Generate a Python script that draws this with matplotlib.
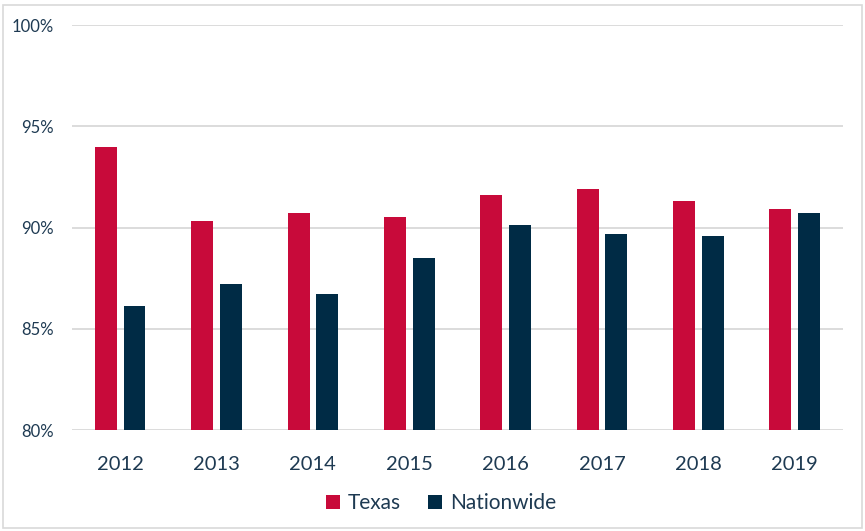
import numpy as np
import matplotlib.pyplot as plt
from matplotlib.patches import Rectangle
from matplotlib.ticker import PercentFormatter

years = ['2012', '2013', '2014', '2015', '2016', '2017', '2018', '2019']
texas = [94.0, 90.3, 90.7, 90.5, 91.6, 91.9, 91.3, 90.9]
nationwide = [86.1, 87.2, 86.7, 88.5, 90.1, 89.7, 89.6, 90.7]

RED = '#C80A3A'
NAVY = '#002B45'
TEXT = '#1E3A52'

plt.rcParams['font.family'] = ['Lato', 'DejaVu Sans']

fig = plt.figure(figsize=(8.65, 5.31), dpi=100)
ax = fig.add_axes([0.0832, 0.1902, 0.8913, 0.7627])

x = np.arange(len(years))
w = 0.228
off = 0.149
ax.bar(x - off, texas, w, color=RED, label='Texas', zorder=3)
ax.bar(x + off, nationwide, w, color=NAVY, label='Nationwide', zorder=3)

ax.set_xlim(-0.5, len(years) - 0.5)
ax.set_ylim(80, 100)
ax.set_yticks([80, 85, 90, 95, 100])
ax.yaxis.set_major_formatter(PercentFormatter(decimals=0))
ax.set_xticks(x)
ax.set_xticklabels(years)
ax.tick_params(axis='y', length=0, pad=13, labelsize=12, labelcolor=TEXT)
ax.tick_params(axis='x', length=0, pad=19, labelsize=14.5, labelcolor=TEXT)
ax.grid(axis='y', color='#D9D9D9', linewidth=1.3, zorder=0)
for s in ax.spines.values():
    s.set_visible(False)

leg = ax.legend(loc='center', bbox_to_anchor=(0.479, -0.18), ncol=2,
                frameon=False, fontsize=15, handlelength=0.65, handleheight=0.65,
                columnspacing=1.3, handletextpad=0.4)
for t in leg.get_texts():
    t.set_color(TEXT)

# thin frame around the whole chart
fig.patches.append(Rectangle((0.004, 0.006), 0.992, 0.985, transform=fig.transFigure,
                             fill=False, edgecolor='#D9D9D9', linewidth=1.2))

fig.savefig('out.png', dpi=100)
